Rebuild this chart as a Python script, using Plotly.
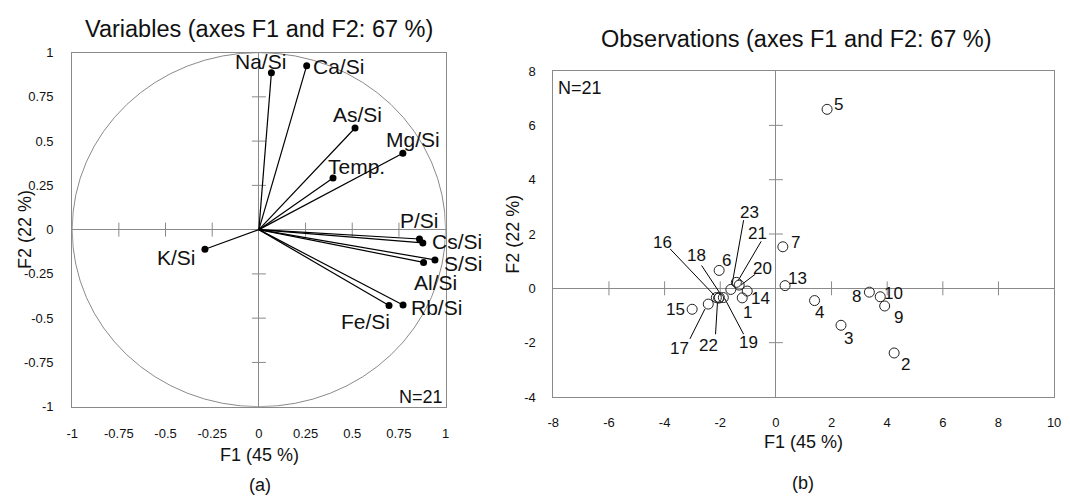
import plotly.graph_objects as go

# ---------------- data ----------------
# (a) variables: loadings on F1 / F2
var_names = ["Na/Si", "Ca/Si", "As/Si", "Mg/Si", "Temp.", "P/Si", "Cs/Si", "S/Si", "Al/Si", "Rb/Si", "Fe/Si", "K/Si"]
var_f1 = [0.067, 0.256, 0.515, 0.771, 0.397, 0.860, 0.878, 0.943, 0.882, 0.772, 0.697, -0.289]
var_f2 = [0.886, 0.926, 0.574, 0.431, 0.292, -0.053, -0.075, -0.171, -0.185, -0.426, -0.429, -0.111]
# label anchor positions (axis units)
var_lab_x = [0.01, 0.429, 0.529, 0.825, 0.524, 0.86, 1.063, 1.098, 0.947, 0.952, 0.571, -0.441]
var_lab_y = [0.95, 0.923, 0.652, 0.507, 0.359, 0.049, -0.066, -0.189, -0.299, -0.438, -0.518, -0.156]

# (b) observations: scores on F1 / F2
obs_ids = ["1", "2", "3", "4", "5", "6", "7", "8", "9", "10", "13", "14", "15", "16", "17", "18", "19", "20", "21", "22", "23"]
obs_f1 = [-1.21, 4.25, 2.34, 1.39, 1.84, -2.04, 0.25, 3.36, 3.91, 3.75, 0.33, -1.03, -3.01, -2.14, -2.43, -2.03, -1.89, -1.32, -1.42, -2.06, -1.62]
obs_f2 = [-0.35, -2.38, -1.36, -0.45, 6.59, 0.66, 1.53, -0.14, -0.65, -0.31, 0.10, -0.10, -0.77, -0.34, -0.58, -0.34, -0.34, 0.12, 0.22, -0.36, -0.04]
obs_lab_x = [-1.03, 4.66, 2.61, 1.58, 2.25, -1.78, 0.71, 2.88, 4.39, 4.23, 0.79, -0.56, -3.62, -4.09, -3.46, -2.85, -0.99, -0.47, -0.65, -2.43, -0.95]
obs_lab_y = [-0.88, -2.81, -1.86, -0.88, 6.77, 1.03, 1.67, -0.31, -1.06, -0.20, 0.36, -0.38, -0.79, 1.67, -2.22, 1.21, -1.98, 0.72, 2.03, -2.10, 2.78]
# leader lines (label end -> point end)
lead_ids = ["16", "18", "23", "21", "20", "19", "22", "17"]
lead_x0 = [-3.80, -2.67, -1.16, -0.53, -0.74, -1.16, -2.17, -3.09]
lead_y0 = [1.45, 0.84, 2.51, 1.73, 0.52, -1.69, -1.69, -1.86]
lead_x1 = [-2.19, -1.96, -1.58, -1.36, -1.25, -1.84, -2.10, -2.55]
lead_y1 = [-0.28, -0.26, 0.12, 0.28, 0.125, -0.375, -0.53, -0.76]

# ticks
a_ticks = [-1, -0.75, -0.5, -0.25, 0, 0.25, 0.5, 0.75, 1]
a_ticktext = ["-1", "-0.75", "-0.5", "-0.25", "0", "0.25", "0.5", "0.75", "1"]
b_xticks = [-8, -6, -4, -2, 0, 2, 4, 6, 8, 10]
b_xticktext = ["-8", "-6", "-4", "-2", "0", "2", "4", "6", "8", "10"]
b_yticks = [-4, -2, 0, 2, 4, 6, 8]
b_yticktext = ["-4", "-2", "0", "2", "4", "6", "8"]

FONT = "Liberation Sans, Arial, sans-serif"
GRAY = "#8a8a8a"
TXT = "#111111"

XA_DOM, XA_RNG = [0.0626, 0.4159], [-1, 1]
YA_DOM, YA_RNG = [0.1793, 0.9064], [-1, 1]
XB_DOM, XB_RNG = [0.5178, 0.9916], [-8, 10]
YB_DOM, YB_RNG = [0.1992, 0.8685], [-4, 8]


def to_paper(v, dom, rng):
    return dom[0] + (v - rng[0]) / (rng[1] - rng[0]) * (dom[1] - dom[0])


fig = go.Figure()

# ----- panel (a) -----
inner_a = [t for t in a_ticks if t not in (-1, 0, 1)]
fig.add_trace(go.Scatter(x=inner_a, y=[0] * len(inner_a), mode="markers", xaxis="x", yaxis="y",
                         marker=dict(symbol="line-ns", size=10, line=dict(color=GRAY, width=1)),
                         hoverinfo="skip", showlegend=False))
fig.add_trace(go.Scatter(x=[0] * len(inner_a), y=inner_a, mode="markers", xaxis="x", yaxis="y",
                         marker=dict(symbol="line-ew", size=10, line=dict(color=GRAY, width=1)),
                         hoverinfo="skip", showlegend=False))
vx, vy = [], []
for a, b in zip(var_f1, var_f2):
    vx += [0, a, None]
    vy += [0, b, None]
fig.add_trace(go.Scatter(x=vx, y=vy, mode="lines", xaxis="x", yaxis="y",
                         line=dict(color="black", width=1.2), hoverinfo="skip", showlegend=False))
fig.add_trace(go.Scatter(x=var_f1, y=var_f2, mode="markers", xaxis="x", yaxis="y",
                         marker=dict(color="black", size=7), showlegend=False))

# ----- panel (b) -----
inner_bx = [t for t in b_xticks if t not in (-8, 0, 10)]
inner_by = [t for t in b_yticks if t not in (-4, 0, 8)]
fig.add_trace(go.Scatter(x=inner_bx, y=[0] * len(inner_bx), mode="markers", xaxis="x2", yaxis="y2",
                         marker=dict(symbol="line-ns", size=10, line=dict(color=GRAY, width=1)),
                         hoverinfo="skip", showlegend=False))
fig.add_trace(go.Scatter(x=[0] * len(inner_by), y=inner_by, mode="markers", xaxis="x2", yaxis="y2",
                         marker=dict(symbol="line-ew", size=10, line=dict(color=GRAY, width=1)),
                         hoverinfo="skip", showlegend=False))
lx, ly = [], []
for a, b, c, d in zip(lead_x0, lead_y0, lead_x1, lead_y1):
    lx += [a, c, None]
    ly += [b, d, None]
fig.add_trace(go.Scatter(x=lx, y=ly, mode="lines", xaxis="x2", yaxis="y2",
                         line=dict(color="black", width=1), hoverinfo="skip", showlegend=False))
fig.add_trace(go.Scatter(x=obs_f1, y=obs_f2, mode="markers", xaxis="x2", yaxis="y2",
                         marker=dict(symbol="circle-open", size=10, color="#222222", line=dict(width=1)),
                         showlegend=False))

axis_common = dict(showgrid=False, showline=True, mirror=True, linecolor=GRAY, linewidth=1,
                   zeroline=True, zerolinecolor=GRAY, zerolinewidth=1, ticks="",
                   tickfont=dict(family=FONT, size=13, color=TXT), tickmode="array")

fig.update_layout(
    width=1070, height=502, margin=dict(l=0, r=0, t=0, b=0),
    paper_bgcolor="white", plot_bgcolor="white", showlegend=False,
    xaxis=dict(domain=XA_DOM, range=XA_RNG, tickvals=a_ticks, ticktext=a_ticktext,
               ticklabelstandoff=15, anchor="y", **axis_common),
    yaxis=dict(domain=YA_DOM, range=YA_RNG, tickvals=a_ticks, ticktext=a_ticktext,
               ticklabelstandoff=15, anchor="x", **axis_common),
    xaxis2=dict(domain=XB_DOM, range=XB_RNG, tickvals=b_xticks, ticktext=b_xticktext,
                ticklabelstandoff=13, anchor="y2", **axis_common),
    yaxis2=dict(domain=YB_DOM, range=YB_RNG, tickvals=b_yticks, ticktext=b_yticktext,
                ticklabelstandoff=14, anchor="x2", **axis_common),
    shapes=[dict(type="circle", xref="x", yref="y", x0=-1, x1=1, y0=-1, y1=1,
                 line=dict(color=GRAY, width=1), layer="below")],
)

ann = []
for name, x, y in zip(var_names, var_lab_x, var_lab_y):
    ann.append(dict(x=to_paper(x, XA_DOM, XA_RNG), y=to_paper(y, YA_DOM, YA_RNG),
                    xref="paper", yref="paper", text=name, showarrow=False,
                    xanchor="center", yanchor="middle", font=dict(family=FONT, size=21, color=TXT)))
ann.append(dict(x=to_paper(0.868, XA_DOM, XA_RNG), y=to_paper(-0.948, YA_DOM, YA_RNG),
                xref="paper", yref="paper", text="N=21", showarrow=False,
                xanchor="center", yanchor="middle", font=dict(family=FONT, size=18, color=TXT)))
for name, x, y in zip(obs_ids, obs_lab_x, obs_lab_y):
    ann.append(dict(x=to_paper(x, XB_DOM, XB_RNG), y=to_paper(y, YB_DOM, YB_RNG),
                    xref="paper", yref="paper", text=name, showarrow=False,
                    xanchor="center", yanchor="middle", font=dict(family=FONT, size=17, color=TXT)))
ann.append(dict(x=to_paper(-7.03, XB_DOM, XB_RNG), y=to_paper(7.36, YB_DOM, YB_RNG),
                xref="paper", yref="paper", text="N=21", showarrow=False,
                xanchor="center", yanchor="middle", font=dict(family=FONT, size=18, color=TXT)))


def pt(x_px, y_px, text, size, angle=0):
    return dict(x=x_px / 1070, y=1 - y_px / 502, xref="paper", yref="paper", text=text,
                showarrow=False, xanchor="center", yanchor="middle", textangle=angle,
                font=dict(family=FONT, size=size, color=TXT))


ann += [
    pt(256, 23, "Variables (axes F1 and F2: 67 %)", 23.5),
    pt(800, 33, "Observations (axes F1 and F2: 67 %)", 23.5),
    pt(257, 462, "F1 (45 %)", 18),
    pt(807, 448, "F1 (45 %)", 18),
    pt(257, 493, "(a)", 18),
    pt(807, 491, "(b)", 18),
    pt(19, 229, "F2 (22 %)", 18, -90),
    pt(513, 234, "F2 (22 %)", 18, -90),
]
fig.update_layout(annotations=ann)

fig.write_html("out.html")
